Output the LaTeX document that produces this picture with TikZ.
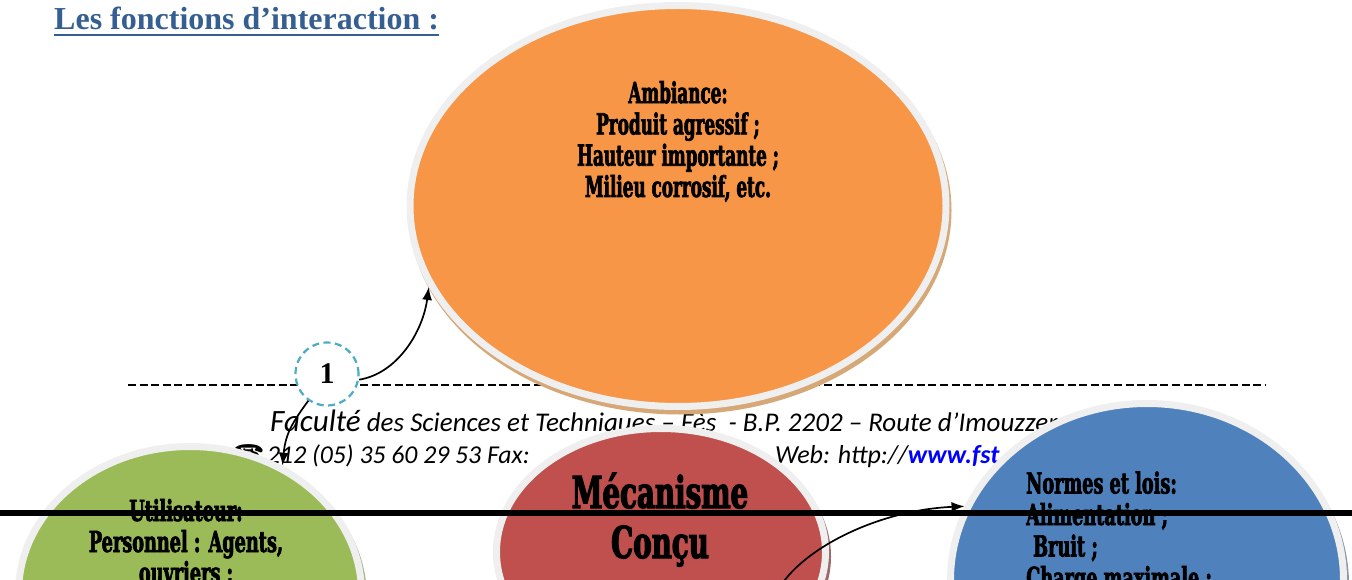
\documentclass[tikz,border=0pt]{standalone}
\usepackage{fontspec}
\setmainfont{Liberation Serif}
\newfontfamily\heavyfont[FakeStretch=0.58,FakeBold=2.2]{DejaVu Serif}
\newfontfamily\heavywide[FakeStretch=0.61,FakeBold=2.2]{DejaVu Serif}
\newfontfamily\heavybig[FakeStretch=0.63,FakeBold=2.6]{DejaVu Serif}
\newfontfamily\calfont{Carlito}
\newfontfamily\symfont{DejaVu Sans}
\usetikzlibrary{arrows.meta,shapes.geometric,shadows,calc}
\definecolor{titleblue}{HTML}{365F91}
\definecolor{ambiance}{HTML}{F79646}
\definecolor{usergreen}{HTML}{9BBB59}
\definecolor{mecared}{HTML}{C0504D}
\definecolor{normblue}{HTML}{4F81BD}
\definecolor{ringgrey}{HTML}{EFEFEF}
\definecolor{tanbevel}{HTML}{D6A878}
\definecolor{redbevel}{HTML}{9C6B6B}
\definecolor{bluebevel}{HTML}{8A97AD}
\definecolor{greenbevel}{HTML}{A8B58A}
\definecolor{dashring}{HTML}{4BACC6}
\definecolor{linkblue}{HTML}{0000FF}
\tikzset{
  blob/.style={ellipse, draw=ringgrey, line width=7pt, inner sep=0pt},
  bevel/.style={general shadow={draw=#1, fill=#1, line width=7pt,
      shadow xshift=2pt, shadow yshift=-4.5pt}},
  blobtext/.style={inner sep=0pt, align=center,
      font=\heavyfont\bfseries\fontsize{29}{31.3}\selectfont},
  foot/.style={inner sep=0pt, anchor=base west, font=\calfont\itshape\fontsize{25.7}{30}\selectfont},
  link/.style={-{Latex[length=13pt,width=10pt]}, line width=1.7pt},
}
\begin{document}
\begin{tikzpicture}[x=1pt,y=-1pt]
\useasboundingbox (0,0) rectangle (1352,580);
\clip (0,0) rectangle (1352,580);

% heading
\node[anchor=base west, inner sep=0pt, text=titleblue,
      font=\bfseries\fontsize{32}{38}\selectfont] (title) at (54,30) {Les fonctions d’interaction :};
\draw[titleblue, line width=2.6pt] ($(title.base west)+(0,5)$) -- ($(title.base east)+(0,5)$);

% page footer
\coordinate (rulestart) at (128,385);
\coordinate (ruleend) at (1265,385);
\draw[line width=1.7pt, dash pattern=on 8pt off 3.6pt] (rulestart) -- (ruleend);
\node[foot, font=\calfont\itshape\fontsize{27}{32}\selectfont] (addr) at (270,431)
  {{\fontsize{31}{36}\selectfont Faculté} des Sciences et Techniques – Fès~ - B.P. 2202 – Route d’Imouzzer};
\node[inner sep=0pt, anchor=base west, font=\symfont\fontsize{26}{30}\selectfont] (phone) at (232,463) {☎};
\node[foot] (tel) at (267,463) {212 (05) 35 60 29 53 Fax:};
\node[foot, font=\calfont\itshape\fontsize{26}{30}\selectfont] (web) at (775,463)
  {Web: http://\textcolor{linkblue}{\bfseries www.fst}};

% environment bubbles
\node[blob, bevel=tanbevel, fill=ambiance, minimum width=536pt, minimum height=401pt] (amb) at (678,206) {};
\node[blobtext] (ambtxt) at (678,197) [anchor=base]
  {Ambiance:\\ Produit agressif ;\\ Hauteur importante ;\\ Milieu corrosif, etc.};

\node[blob, bevel=greenbevel, fill=usergreen, minimum width=343pt, minimum height=293pt] (user) at (190,593) {};
\node[blobtext, font=\heavywide\bfseries\fontsize{29}{31}\selectfont] (usertxt) at (186,583) [anchor=base]
  {Utilisateur:\\ Personnel : Agents,\\ ouvriers ;};

\node[blob, bevel=redbevel, fill=mecared, minimum width=329pt, minimum height=247pt] (meca) at (661,552) {};
\node[blobtext, font=\heavybig\bfseries\fontsize{44}{50}\selectfont] (mecatxt) at (660,558) [anchor=base]
  {Mécanisme\\ Conçu};

\node[blob, bevel=bluebevel, fill=normblue, minimum width=393pt, minimum height=353pt] (norm) at (1147,580) {};
\node[blobtext, align=left, font=\heavywide\bfseries\fontsize{29}{31.5}\selectfont] (normtxt) at (1026,588) [anchor=base west]
  {Normes et lois:\\ Alimentation ;\\ \hspace*{7pt}Bruit ;\\ Charge maximale ;};

% interaction marker and links
\node[circle, draw=dashring, dash pattern=on 7pt off 4.5pt, line width=2.2pt, fill=white,
      minimum size=63pt, inner sep=0pt, font=\bfseries\fontsize{30}{30}\selectfont] (one) at (327,374) {1};
\coordinate (linkstart) at (776,594);

\draw[link] (one.-10) .. controls +(38,-6) and +(-6,45) .. (amb.198);
\draw[link] (one.235) .. controls +(-16,22) and +(3,-32) .. (user.54);
\draw[link] (linkstart) .. controls +(20,-42) and +(-90,4) .. (norm.158);

% heavy separator
\coordinate (barleft) at (0,513);
\coordinate (barright) at (1352,513);
\draw[line width=6.5pt] (barleft) -- (barright);
\end{tikzpicture}
\end{document}
